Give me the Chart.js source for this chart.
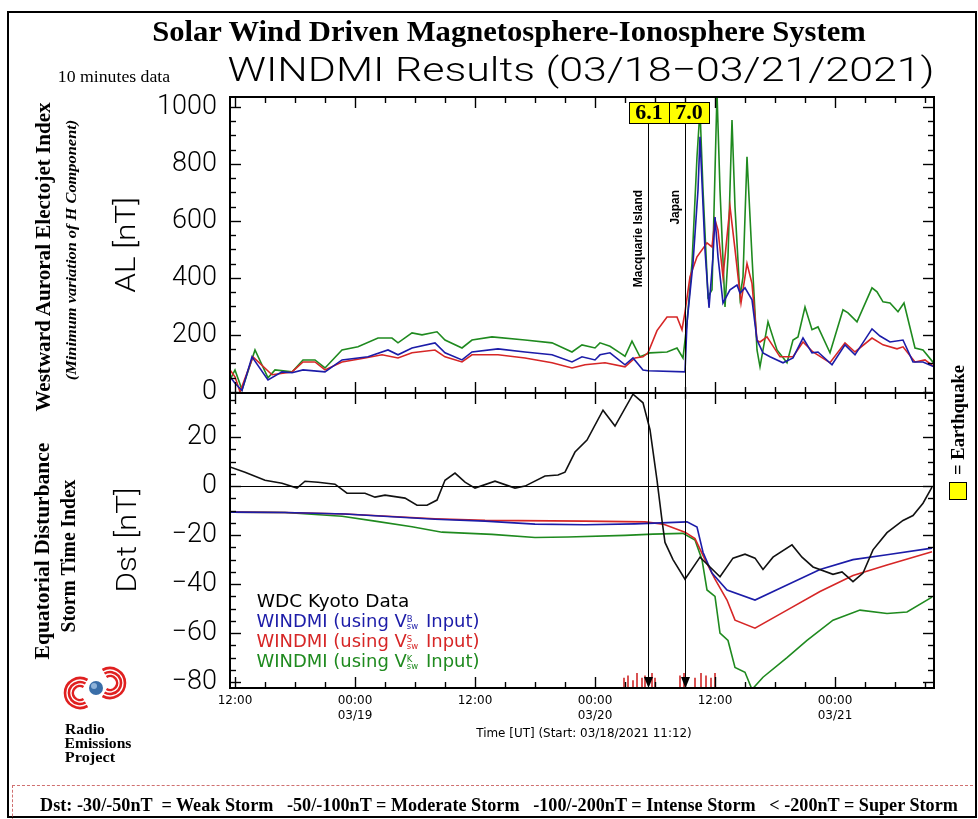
<!DOCTYPE html>
<html><head><meta charset="utf-8">
<script src="https://cdn.jsdelivr.net/npm/chart.js@4.4.1/dist/chart.umd.min.js"></script>
<style>
html,body{margin:0;padding:0;background:#fff;}
#page{position:relative;width:978px;height:819px;overflow:hidden;background:#fff;}
canvas{position:absolute;left:0;top:0;}
.t{position:absolute;white-space:nowrap;line-height:1;}
#border{position:absolute;left:7px;top:11px;width:966px;height:803px;border:2px solid #000;}
#footer{position:absolute;left:12px;top:785px;width:960px;height:40px;border-top:1.5px dashed #d07070;border-left:1.5px dashed #d07070;}
#eqbox{position:absolute;left:949px;top:482px;width:16px;height:16px;background:#ffff00;border:1px solid #000;}
.ss{display:inline-block;vertical-align:-2px;font-size:8px;line-height:7px;text-align:left;margin:0 2px 0 0;}
</style></head>
<body>
<div id="page">
  <div id="border"></div>
  <div id="footer"></div>
  <canvas id="c1" width="978" height="819"></canvas>
  <canvas id="c2" width="978" height="819"></canvas>
  <div id="eqbox"></div>
  <svg style="position:absolute;left:60px;top:664px" width="72" height="50" viewBox="0 0 72 50">
    <g fill="none" stroke="#e02020" stroke-width="2.6">
      <path d="M27.5,16 A15,15 0 1 0 27.5,42"/>
      <path d="M25.5,19.5 A11,11 0 1 0 25.5,38.5"/>
      <path d="M23.5,23 A7,7 0 1 0 23.5,35"/>
      <path d="M42.5,6 A15,15 0 1 1 42.5,32"/>
      <path d="M44.5,9.5 A11,11 0 1 1 44.5,28.5"/>
      <path d="M46.5,13 A7,7 0 1 1 46.5,25"/>
    </g>
    <circle cx="36" cy="24" r="7" fill="#3a6ea8"/>
    <circle cx="34" cy="22" r="3" fill="#8fb3d9"/>
  </svg>
</div>
<script>
// ---------------- DATA ----------------
// time in hours after 03/18/2021 12:00 UT
const alBlueT = [-0.5,0,0.7,1.7,3.3,4.7,5.7,6.8,9.0,10.7,13.3,15.3,16.3,17.7,20.0,21.0,22.7,23.7,26.3,29.0,31.7,33.7,34.7,36.0,36.5,37.5,39.0,39.8,40.8,41.3,45.0,45.2,45.8,46.3,46.5,47.0,47.4,47.8,48.0,48.3,48.8,49.5,50.2,50.5,51.0,51.7,52.2,52.8,53.5,54.8,55.8,56.8,57.7,58.3,59.7,61.0,62.0,63.7,64.5,65.5,66.8,67.8,68.8,69.9];
const alBlueV = [53,30,5,123,42,70,67,77,70,112,123,147,130,154,172,137,112,140,151,140,130,105,123,112,130,137,95,119,77,74,70,242,452,709,895,498,295,474,614,474,312,358,375,347,365,323,182,137,123,102,119,189,137,140,95,165,130,221,196,175,182,105,105,88];

const alRedT = [-0.5,0,0.5,1.8,3.7,5.7,6.8,8.0,9.0,10.7,13.0,14.7,16.3,17.7,20.0,21.0,22.7,23.7,26.3,29.0,31.7,33.7,35.0,37.0,39.0,40.0,40.8,41.3,42.2,43.2,44.2,44.7,45.0,45.5,46.2,47.2,47.7,48.0,48.3,48.8,49.5,50.0,50.6,51.2,51.7,52.2,52.5,53.2,54.5,55.8,56.8,57.8,59.5,61.0,62.0,63.7,64.8,66.2,66.8,68.0,69.0,69.9];
const alRedV = [77,53,0,123,60,70,105,105,77,105,119,130,119,137,147,123,105,130,130,119,102,84,95,102,88,119,123,137,215,263,263,218,281,404,474,523,509,604,568,404,650,500,312,450,380,180,175,193,123,123,175,140,102,172,140,189,165,151,158,105,112,88];

const alGreenT = [-0.5,0,0.7,2.0,3.3,4.0,5.7,6.8,8.0,9.0,10.7,12.3,14.3,15.7,16.3,17.7,18.7,20.2,21.0,22.7,23.7,25.7,29.0,31.7,33.7,34.7,36.0,36.5,37.5,38.5,39.0,39.7,40.5,41.5,43.2,44.2,44.8,45.2,45.7,46.2,46.5,46.8,47.3,47.7,48.2,48.5,49.0,49.3,49.7,50.0,50.5,50.8,51.2,51.7,52.2,52.5,53.3,54.2,55.2,55.8,56.3,57.0,57.7,58.3,59.5,60.8,61.3,62.2,63.7,64.2,64.8,65.5,66.3,66.9,68.0,68.8,69.9];
const alGreenV = [42,77,7,147,49,77,70,112,112,84,147,158,189,189,172,207,200,211,182,154,182,193,182,172,140,165,154,172,160,137,125,178,123,137,140,154,119,242,452,825,990,709,333,358,1050,709,298,474,954,649,333,404,825,474,147,88,246,147,102,182,193,298,218,228,137,288,277,246,365,351,316,312,281,312,154,147,100];

const dstKyotoT = [-0.5,1.0,3.0,4.7,6.2,7.0,8.3,10.0,11.2,13.0,14.0,15.0,17.0,18.2,19.2,20.2,21.0,22.0,23.0,24.0,26.0,28.0,29.0,31.0,32.3,33.0,34.0,35.2,36.8,38.0,39.8,40.8,41.5,42.2,42.7,43.0,43.8,45.0,46.5,47.5,48.5,49.8,51.0,52.0,52.8,53.8,55.7,56.7,57.8,59.8,60.7,61.8,62.8,63.8,65.2,66.8,67.8,68.8,69.7];
const dstKyotoV = [7.8,5.7,2.4,1.2,-0.8,2.0,1.6,0.8,-2.9,-2.9,-4.5,-3.7,-4.9,-7.8,-7.8,-5.7,2.4,5.3,1.6,-0.8,2.0,-0.8,0,4.1,4.5,5.7,13.9,18.8,31,24.5,37.5,34,23,2.4,-14,-23,-30,-38,-29,-33,-37,-29.4,-27.8,-29.4,-34,-29,-24,-29,-33,-36,-35,-39,-35.5,-26,-19,-14,-12,-7,-0.4];

const dstBlueT = [-0.5,5,11,20,25,30,35,40,45.2,46.2,46.8,47.7,49.2,52.0,55.2,58.5,61.8,65.2,69.7];
const dstBlueV = [-10.6,-10.8,-11.4,-13.5,-14.3,-15.5,-15.8,-15.4,-14.6,-16.7,-27,-35.5,-42.4,-46.5,-40.4,-34,-30,-28,-25.3];

const dstRedT = [-0.5,5,11,20,25,35,41,42.8,45.0,46.0,47.0,48.0,49.2,50.0,52.0,55.2,58.5,61.8,65.2,69.7];
const dstRedV = [-10.6,-10.8,-11.4,-13.3,-14.0,-14.3,-14.6,-15.5,-18.8,-21.4,-30,-38,-46.5,-54.7,-58,-50.6,-43,-36.5,-32.2,-26.8];

const dstGreenT = [-0.5,5,10.7,14.0,17.7,20.7,25.7,30.0,33.3,39.0,41.8,44.8,46.0,46.7,47.2,48.0,48.5,49.3,50.0,51.0,51.7,52.8,55.2,57.2,59.8,62.5,65.2,67.2,69.7];
const dstGreenV = [-10.6,-10.8,-12.3,-14.3,-16.6,-18.8,-19.7,-21,-20.8,-20.1,-19.6,-19.3,-22,-30,-42.4,-45,-60,-63,-74,-76,-83,-78,-70,-63,-54.7,-50.6,-52,-51.4,-45.3];

// earthquakes
const quakeHours = [41.3, 45.0];
const quakeMags = ['6.1', '7.0'];
const quakeNames = ['Macquarie Island', 'Japan'];
const minorQuakeT = [38.9,39.3,39.8,40.2,40.7,41.0,41.7,42.0,44.5,44.9,46.0,46.6,47.1,47.6,48.0];
const minorQuakeH = [4,5,3,6,4,5,6,4,5,6,4,6,5,4,6];

// ticks
const xMajorHours = [0,12,24,36,48,60];
const xMajorLabels = [['12:00'],['00:00','03/19'],['12:00'],['00:00','03/20'],['12:00'],['00:00','03/21']];
const xMinorStep = 3;
const alMajorTicks = [0,200,400,600,800,1000];
const alMinorStep = 50;
const dstMajorTicks = [-80,-60,-40,-20,0,20];
const dstMinorStep = 5;

const X_MIN = -0.5, X_MAX = 69.9;
const AL_MIN = -4, AL_MAX = 1035;
const DST_MIN = -82.4, DST_MAX = 38;

// ---------------- helpers ----------------
const pts = (T, V) => T.map((t, i) => ({x: t, y: V[i]}));
const stepTicks = (min, max, step) => { const a = []; for (let v = Math.ceil(min / step) * step; v <= max + 1e-9; v += step) a.push(Math.round(v * 1000) / 1000); return a; };
const xTickValues = stepTicks(X_MIN, X_MAX, xMinorStep);
const alTickValues = stepTicks(0, 1000, alMinorStep);
const dstTickValues = stepTicks(-80, 35, dstMinorStep);

const BLUE = '#1c1ca8', RED = '#d62626', GREEN = '#1f8a1f', BLACK = '#111';

function seg(ctx, x1, y1, x2, y2) { ctx.beginPath(); ctx.moveTo(x1, y1); ctx.lineTo(x2, y2); ctx.stroke(); }

const innerTicks = {
  id: 'innerTicks',
  afterDatasetsDraw(chart, args, o) {
    const {ctx, chartArea: a} = chart; const x = chart.scales.x, y = chart.scales.y;
    ctx.save();
    ctx.strokeStyle = '#000';
    if (o.zeroLine) { ctx.lineWidth = 1; const pz = Math.round(y.getPixelForValue(0)) + 0.5; seg(ctx, a.left, pz, a.right, pz); }
    ctx.lineWidth = 1.4;
    o.yTicks.forEach(v => {
      if (v < y.min || v > y.max) return;
      const len = o.yMajor.includes(v) ? 11 : 6;
      const py = Math.round(y.getPixelForValue(v)) + 0.5;
      seg(ctx, a.left, py, a.left + len, py); seg(ctx, a.right, py, a.right - len, py);
    });
    xTickValues.forEach(v => {
      const len = xMajorHours.includes(v) ? 11 : 6;
      const px = Math.round(x.getPixelForValue(v)) + 0.5;
      seg(ctx, px, a.top, px, a.top + len); seg(ctx, px, a.bottom, px, a.bottom - len);
    });
    ctx.lineWidth = 2;
    ctx.strokeRect(a.left, a.top, a.right - a.left, a.bottom - a.top);
    ctx.restore();
  }
};

const quakes = {
  id: 'quakes',
  afterDatasetsDraw(chart, args, o) {
    const {ctx, chartArea: a} = chart; const x = chart.scales.x, y = chart.scales.y;
    ctx.save();
    ctx.strokeStyle = '#000'; ctx.fillStyle = '#000'; ctx.lineWidth = 1;
    let prevRight = -Infinity;
    quakeHours.forEach((h, i) => {
      const px = Math.round(x.getPixelForValue(h)) + 0.5;
      if (o.panel === 'top') {
        const top = Math.round(y.getPixelForValue(o.boxTop)), bot = Math.round(y.getPixelForValue(o.boxBottom));
        seg(ctx, px, bot, px, a.bottom);
        ctx.font = 'bold 22px "Liberation Serif"';
        const w = Math.round(ctx.measureText(quakeMags[i]).width + 12);
        const left = Math.round(Math.max(px - w / 2, prevRight));
        ctx.fillStyle = '#ffff00'; ctx.fillRect(left, top, w, bot - top);
        ctx.strokeRect(left + 0.5, top + 0.5, w, bot - top);
        ctx.fillStyle = '#000'; ctx.textAlign = 'center'; ctx.textBaseline = 'middle';
        ctx.fillText(quakeMags[i], left + w / 2, (top + bot) / 2 + 1);
        prevRight = left + w;
        ctx.save();
        ctx.translate(px - 10, y.getPixelForValue(o.nameTop));
        ctx.rotate(-Math.PI / 2);
        ctx.font = 'bold 12px "Liberation Sans"'; ctx.textAlign = 'right'; ctx.textBaseline = 'middle';
        ctx.fillText(quakeNames[i], 0, 0);
        ctx.restore();
      } else {
        seg(ctx, px, a.top, px, a.bottom - 8);
        ctx.beginPath(); ctx.moveTo(px - 4.5, a.bottom - 11); ctx.lineTo(px + 4.5, a.bottom - 11); ctx.lineTo(px, a.bottom); ctx.closePath(); ctx.fill();
      }
    });
    ctx.restore();
  }
};

const lineDs = (label, T, V, color) => ({label, data: pts(T, V), borderColor: color, backgroundColor: color, borderWidth: 1.6, pointRadius: 0, tension: 0, fill: false});
const yFont = {family: 'Roboto', size: 27, weight: '300'};

// ---------------- top panel: AL ----------------
new Chart(document.getElementById('c1'), {
  type: 'line',
  data: {datasets: [
    lineDs('WINDMI AL (blue)', alBlueT, alBlueV, BLUE),
    lineDs('WINDMI AL (red)', alRedT, alRedV, RED),
    lineDs('WINDMI AL (green)', alGreenT, alGreenV, GREEN)
  ]},
  options: {
    responsive: false, animation: false, devicePixelRatio: 1,
    layout: {padding: {left: 150, right: 44, top: 97, bottom: 426}},
    plugins: {legend: {display: false}, tooltip: {enabled: false},
      innerTicks: {yTicks: alTickValues, yMajor: alMajorTicks},
      quakes: {panel: 'top', boxTop: 1018, boxBottom: 944, nameTop: 709}},
    scales: {
      x: {type: 'linear', min: X_MIN, max: X_MAX, display: false, offset: false},
      y: {type: 'linear', min: AL_MIN, max: AL_MAX,
        afterFit: s => { s.width = 80; },
        afterBuildTicks: s => { s.ticks = alTickValues.map(v => ({value: v})); },
        grid: {display: false, drawTicks: false}, border: {display: false},
        ticks: {padding: 13, autoSkip: false, color: '#000', font: yFont,
          callback: v => alMajorTicks.includes(v) ? String(v) : ''}}
    }
  },
  plugins: [innerTicks, quakes]
});

// ---------------- bottom panel: Dst ----------------
new Chart(document.getElementById('c2'), {
  type: 'line',
  data: {datasets: [
    lineDs('WDC Kyoto Data', dstKyotoT, dstKyotoV, BLACK),
    lineDs('WINDMI Dst (blue)', dstBlueT, dstBlueV, BLUE),
    lineDs('WINDMI Dst (red)', dstRedT, dstRedV, RED),
    lineDs('WINDMI Dst (green)', dstGreenT, dstGreenV, GREEN),
    {type: 'bar', label: 'Earthquakes', data: minorQuakeT.map((t, i) => ({x: t, y: [DST_MIN, DST_MIN + minorQuakeH[i]]})),
      backgroundColor: '#d03030', borderWidth: 0, barThickness: 1, grouped: false}
  ]},
  options: {
    responsive: false, animation: false, devicePixelRatio: 1,
    layout: {padding: {left: 150, right: 44, top: 393, bottom: 91}},
    plugins: {legend: {display: false}, tooltip: {enabled: false},
      innerTicks: {yTicks: dstTickValues, yMajor: dstMajorTicks, zeroLine: true},
      quakes: {panel: 'bottom'}},
    scales: {
      x: {type: 'linear', min: X_MIN, max: X_MAX, offset: false,
        afterFit: s => { s.height = 40; },
        afterBuildTicks: s => { s.ticks = xTickValues.map(v => ({value: v})); },
        grid: {display: false, drawTicks: false}, border: {display: false},
        ticks: {padding: 6, autoSkip: false, maxRotation: 0, minRotation: 0, color: '#000',
          font: {family: 'DejaVu Sans', size: 12},
          callback: v => { const i = xMajorHours.indexOf(v); return i >= 0 ? xMajorLabels[i] : ''; }}},
      y: {type: 'linear', min: DST_MIN, max: DST_MAX,
        afterFit: s => { s.width = 80; },
        afterBuildTicks: s => { s.ticks = dstTickValues.map(v => ({value: v})); },
        grid: {display: false, drawTicks: false}, border: {display: false},
        ticks: {padding: 13, autoSkip: false, color: '#000', font: yFont,
          callback: v => dstMajorTicks.includes(v) ? (v < 0 ? '\u2212' + (-v) : String(v)) : ''}}
    }
  },
  plugins: [innerTicks, quakes]
});

// ---------------- text ----------------
const page = document.getElementById('page');
function place(html, cx, cy, font, color, w, rot) {
  const el = document.createElement('div');
  el.className = 't'; el.innerHTML = html; el.style.font = font; el.style.color = color || '#000';
  el.style.left = cx + 'px'; el.style.top = cy + 'px';
  page.appendChild(el);
  const s = w ? w / el.offsetWidth : 1;
  el.style.transform = `translate(-50%,-50%) rotate(${rot || 0}deg) scaleX(${s})`;
  return el;
}
const SERIF = '"Liberation Serif","Times New Roman",serif';
const THIN = '300 34px Roboto, "DejaVu Sans", sans-serif';
place('Solar Wind Driven Magnetosphere-Ionosphere System', 509, 31, 'bold 29px ' + SERIF, '#000', 714);
place('10 minutes data', 114, 77, '16px ' + SERIF, '#000', 112);
place('WINDMI Results (03/18\u221203/21/2021)', 581, 69, THIN, '#000', 707);
place('AL [nT]', 125, 245, '300 28px Roboto, sans-serif', '#000', 96, -90);
place('Dst [nT]', 126, 540, '300 28px Roboto, sans-serif', '#000', 105, -90);
place('Westward Auroral Electojet Index', 43, 257, 'bold 21px ' + SERIF, '#000', 309, -90);
place('(Minimum variation of H Component)', 72, 250, 'italic bold 14px ' + SERIF, '#000', 260, -90);
place('Equatorial Disturbance', 42, 551, 'bold 21px ' + SERIF, '#000', 217, -90);
place('Storm Time Index', 68, 556, 'bold 21px ' + SERIF, '#000', 153, -90);
place('= Earthquake', 958, 420, 'bold 18px ' + SERIF, '#000', 110, -90);
place('Time [UT] (Start: 03/18/2021 11:12)', 584, 733, '12px "DejaVu Sans", sans-serif', '#000', 216);
place('Radio', 85, 730, 'bold 14px ' + SERIF, '#000', 40);
place('Emissions', 98, 744, 'bold 14px ' + SERIF, '#000', 67);
place('Project', 90, 758, 'bold 14px ' + SERIF, '#000', 50);
place('Dst: -30/-50nT &nbsp;= Weak Storm &nbsp;&nbsp;-50/-100nT = Moderate Storm &nbsp;&nbsp;-100/-200nT = Intense Storm &nbsp;&nbsp;&lt; -200nT = Super Storm', 499, 805, 'bold 19px ' + SERIF, '#000', 918);
const LEG = '17px "DejaVu Sans", sans-serif';
const vsym = t => 'V<span class="ss">' + t + '<br>sw</span>';
place('WDC Kyoto Data', 333, 601, LEG, '#000', 153);
place('WINDMI (using ' + vsym('B') + ' Input)', 368, 621, LEG, BLUE, 223);
place('WINDMI (using ' + vsym('S') + ' Input)', 368, 641, LEG, RED, 223);
place('WINDMI (using ' + vsym('K') + ' Input)', 368, 661, LEG, GREEN, 223);
</script>
</body></html>
